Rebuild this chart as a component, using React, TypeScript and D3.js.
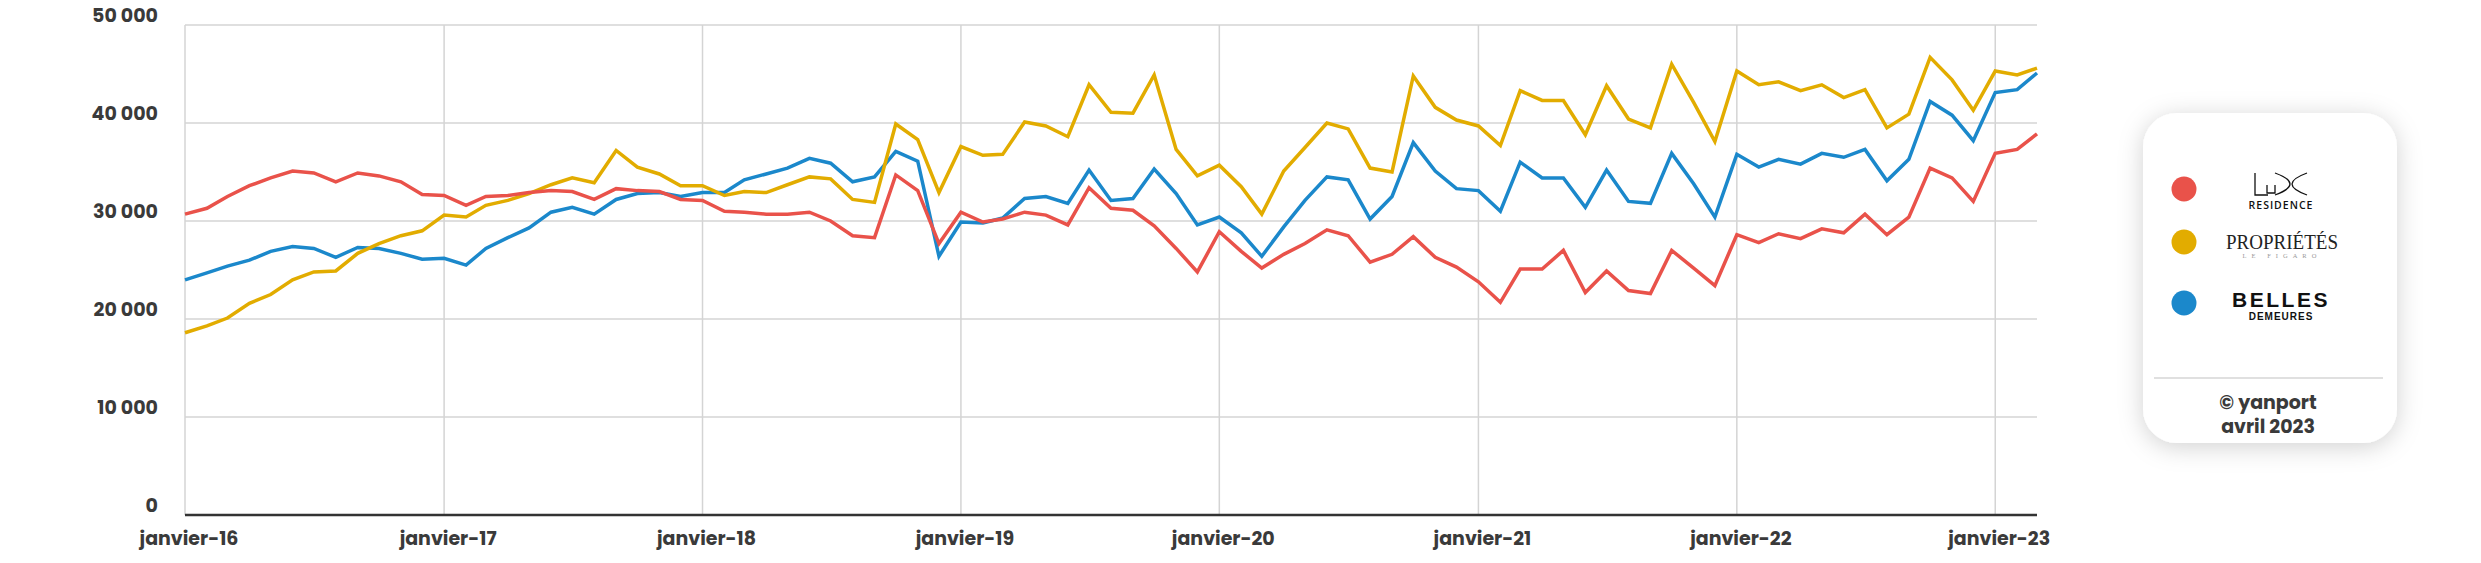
import React from 'react';
import * as d3 from 'd3';

// mois : janvier 2016 -> mars 2023
const months = d3.utcMonths(new Date(Date.UTC(2016, 0, 1)), new Date(Date.UTC(2023, 3, 1)));

const xTickLabels = ['janvier-16', 'janvier-17', 'janvier-18', 'janvier-19', 'janvier-20', 'janvier-21', 'janvier-22', 'janvier-23'];
const yTicks = [0, 10000, 20000, 30000, 40000, 50000];

// Lux Residence
const lux = [
	30700, 31300, 32500, 33600, 34400, 35100, 34900, 34000, 34900, 34600, 34000, 32700,
	32600, 31600, 32500, 32600, 32900, 33100, 33000, 32200, 33300, 33100, 33000, 32200,
	32100, 31000, 30900, 30700, 30700, 30900, 30000, 28500, 28300, 34700, 33100, 27700,
	30900, 29900, 30200, 30900, 30600, 29600, 33400, 31300, 31100, 29500, 27200, 24800,
	28900, 26900, 25200, 26600, 27700, 29100, 28500, 25800, 26600, 28400, 26300, 25300,
	23800, 21700, 25100, 25100, 27000, 22700, 24900, 22900, 22600, 27000, 25200, 23400,
	28600, 27800, 28700, 28200, 29200, 28800, 30700, 28600, 30400, 35400, 34400, 32000,
	36900, 37300, 38900
];

// Propriétés Le Figaro
const proprietes = [
	18600, 19300, 20100, 21600, 22500, 24000, 24800, 24900, 26700, 27700, 28500, 29000,
	30600, 30400, 31600, 32100, 32800, 33700, 34400, 33900, 37200, 35500, 34800, 33600,
	33600, 32600, 33000, 32900, 33700, 34500, 34300, 32200, 31900, 39900, 38300, 32900,
	37600, 36700, 36800, 40100, 39700, 38600, 43900, 41100, 41000, 44900, 37300, 34600,
	35700, 33500, 30700, 35100, 37500, 40000, 39400, 35400, 35000, 44800, 41600, 40300,
	39700, 37700, 43300, 42300, 42300, 38800, 43800, 40400, 39500, 46000, 42100, 38100,
	45300, 43900, 44200, 43300, 43900, 42600, 43400, 39500, 40900, 46700, 44400, 41300,
	45300, 44900, 45600
];

// Belles Demeures
const belles = [
	24000, 24700, 25400, 26000, 26900, 27400, 27200, 26300, 27300, 27200, 26700, 26100,
	26200, 25500, 27200, 28300, 29300, 30900, 31400, 30700, 32200, 32800, 32900, 32500,
	32900, 32900, 34200, 34800, 35400, 36400, 35900, 34000, 34500, 37100, 36100, 26400,
	29900, 29800, 30300, 32300, 32500, 31800, 35200, 32100, 32300, 35300, 32800, 29600,
	30400, 28800, 26400, 29400, 32100, 34500, 34200, 30200, 32500, 38000, 35100, 33300,
	33100, 31000, 36000, 34400, 34400, 31400, 35200, 32000, 31800, 36900, 33800, 30400,
	36800, 35500, 36300, 35800, 36900, 36500, 37300, 34100, 36300, 42200, 40800, 38200,
	43100, 43400, 45100
];

const RED = '#e9524a';
const GOLD = '#e2ac00';
const BLUE = '#1b88cb';

const W = 2481;
const H = 563;
const margin = { left: 185, right: W - 2037, top: 25, bottom: H - 515 };
const FONT = "Poppins, 'Open Sans', sans-serif";
const TEXT = '#3a3a3a';
const GRID = '#d4d4d4';

const fr = d3.formatLocale({ decimal: ',', thousands: ' ', grouping: [3], currency: ['', ' €'] });
const fmt = fr.format(',d');

export default function App() {
	const x = d3.scaleUtc()
		.domain(d3.extent(months) as [Date, Date])
		.range([margin.left, W - margin.right]);

	const y = d3.scaleLinear()
		.domain([0, 50000])
		.range([H - margin.bottom, margin.top]);

	const yearTicks = months.filter(d => d.getUTCMonth() === 0);

	const line = d3.line<number>()
		.x((d, i) => x(months[i]))
		.y(d => y(d));

	// ordre de tracé : bleu dessous, rouge dessus
	const series = [
		{ name: 'belles', values: belles, color: BLUE },
		{ name: 'proprietes', values: proprietes, color: GOLD },
		{ name: 'lux', values: lux, color: RED },
	];

	const legendX = 2143, legendY = 113, legendW = 254, legendH = 330;
	const cx = legendX + legendW / 2;

	return (
		<svg width={W} height={H} style={{ position: 'absolute', left: 0, top: 0, background: '#fff' }}>
			<defs>
				<filter id="shadow" x="-30%" y="-30%" width="160%" height="160%">
					<feDropShadow dx="0" dy="4" stdDeviation="12" floodColor="#000" floodOpacity="0.18" />
				</filter>
			</defs>

			{/* grille horizontale */}
			<g>
				{yTicks.map(t => (
					<line key={t}
						x1={margin.left} x2={W - margin.right}
						y1={y(t)} y2={y(t)}
						stroke={GRID} strokeWidth={1.5} />
				))}
			</g>

			{/* grille verticale */}
			<g>
				<line x1={margin.left} x2={margin.left} y1={y(50000)} y2={y(0)} stroke={GRID} strokeWidth={1.5} />
				{yearTicks.slice(1).map(d => (
					<line key={+d} x1={x(d)} x2={x(d)} y1={y(50000)} y2={y(0)} stroke={GRID} strokeWidth={1.5} />
				))}
			</g>

			{/* axe du bas */}
			<line x1={margin.left} x2={W - margin.right} y1={y(0)} y2={y(0)} stroke="#333" strokeWidth={2.5} />

			{/* étiquettes y */}
			<g fontFamily={FONT} fontWeight={700} fontSize={19} fill={TEXT} textAnchor="end">
				{yTicks.map(t => (
					<text key={t} x={158} y={y(t) - 3}>{fmt(t)}</text>
				))}
			</g>

			{/* étiquettes x */}
			<g fontFamily={FONT} fontWeight={700} fontSize={19} fill={TEXT} textAnchor="middle">
				{yearTicks.map((d, i) => (
					<text key={+d} x={x(d) + 4} y={545}>{xTickLabels[i]}</text>
				))}
			</g>

			{/* courbes */}
			<g fill="none" strokeWidth={3.5} strokeLinejoin="miter" strokeMiterlimit={4}>
				{series.map(s => (
					<path key={s.name} d={line(s.values) || ''} stroke={s.color} />
				))}
			</g>

			{/* légende */}
			<g>
				<rect x={legendX} y={legendY} width={legendW} height={legendH} rx={34} fill="#fff" filter="url(#shadow)" />
				<circle cx={2184} cy={189} r={12.5} fill={RED} />
				<circle cx={2184} cy={242} r={12.5} fill={GOLD} />
				<circle cx={2184} cy={303} r={12.5} fill={BLUE} />

				{/* logo LUX : L, u et deux arcs croisés */}
				<g fill="none" stroke="#111" strokeWidth={1.3}>
					<path d="M2255,173 V195 H2268" />
					<path d="M2267,185 V193 H2275 V185" />
					<path d="M2275,173 Q2305,184 2275,195" />
					<path d="M2307,173 Q2277,184 2307,195" />
				</g>
				<text x={2281} y={209} textAnchor="middle" fontFamily="'Open Sans', sans-serif" fontWeight={600} fontSize={10.5} letterSpacing={1} fill="#111">RESIDENCE</text>

				<text x={2282} y={249} textAnchor="middle" fontFamily="'Liberation Serif', serif" fontSize={20} textLength={112} lengthAdjust="spacingAndGlyphs" fill="#222">PROPRIÉTÉS</text>
				<text x={2282} y={258} textAnchor="middle" fontFamily="'Liberation Serif', serif" fontSize={6.5} letterSpacing={5} fill="#999">LE FIGARO</text>

				<text x={2281} y={307} textAnchor="middle" fontFamily="'Liberation Sans', sans-serif" fontWeight={700} fontSize={21} letterSpacing={2.5} fill="#111">BELLES</text>
				<text x={2281} y={320} textAnchor="middle" fontFamily="'Liberation Sans', sans-serif" fontWeight={700} fontSize={10} letterSpacing={1} fill="#111">DEMEURES</text>

				<line x1={2154} x2={2383} y1={378} y2={378} stroke="#d6d6d6" strokeWidth={1.5} />
				<text x={cx - 2} y={409} textAnchor="middle" fontFamily={FONT} fontWeight={700} fontSize={19} fill={TEXT}>© yanport</text>
				<text x={cx - 2} y={433} textAnchor="middle" fontFamily={FONT} fontWeight={700} fontSize={19} fill={TEXT}>avril 2023</text>
			</g>
		</svg>
	);
}
